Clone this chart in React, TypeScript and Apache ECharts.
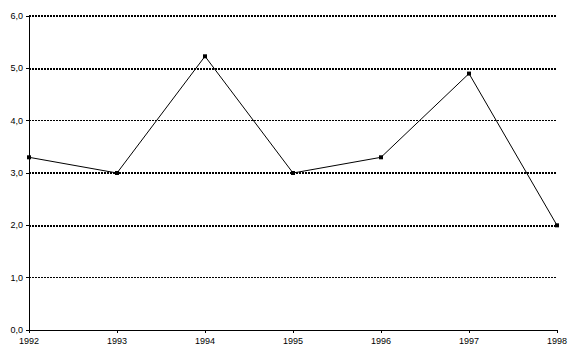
import React, { useEffect, useRef } from "react";
import * as echarts from "echarts";

const years = ["1992", "1993", "1994", "1995", "1996", "1997", "1998"];
const values = [3.3, 3.0, 5.23, 3.0, 3.3, 4.9, 2.0];
const heavyGridValues = [2, 3, 5, 6];

export default function App() {
  const ref = useRef<HTMLDivElement>(null);
  useEffect(() => {
    const chart = echarts.init(ref.current!, null, { renderer: "svg" });
    chart.setOption({
      animation: false,
      backgroundColor: "#ffffff",
      grid: { left: 29, right: 18, top: 16, bottom: 28 },
      xAxis: {
        type: "category",
        data: years,
        boundaryGap: false,
        axisLine: { lineStyle: { color: "#000", width: 1 } },
        axisTick: { show: true, length: 3, lineStyle: { color: "#000" } },
        axisLabel: { color: "#000", fontSize: 9, fontFamily: "Liberation Sans", margin: 6 },
        splitLine: { show: false },
      },
      yAxis: {
        type: "value",
        min: 0,
        max: 6,
        interval: 1,
        axisLine: { show: true, lineStyle: { color: "#000", width: 1 } },
        axisTick: { show: true, length: 3, lineStyle: { color: "#000" } },
        axisLabel: {
          color: "#000",
          fontSize: 9,
          fontFamily: "Liberation Sans",
          margin: 6,
          formatter: (v: number) => v.toFixed(1).replace(".", ","),
        },
        splitLine: { show: true, lineStyle: { color: "#000", width: 1, type: [2, 1] } },
      },
      series: [
        {
          type: "line",
          data: values,
          symbol: "rect",
          symbolSize: 4,
          itemStyle: { color: "#000" },
          lineStyle: { color: "#000", width: 1 },
          markLine: {
            silent: true,
            symbol: "none",
            label: { show: false },
            lineStyle: { color: "#000", width: 2, type: [2, 1] },
            data: heavyGridValues.map((v) => ({ yAxis: v })),
          },
        },
      ],
    });
    return () => chart.dispose();
  }, []);
  return <div ref={ref} style={{ width: 575, height: 358, position: "absolute", left: 0, top: 0 }} />;
}
